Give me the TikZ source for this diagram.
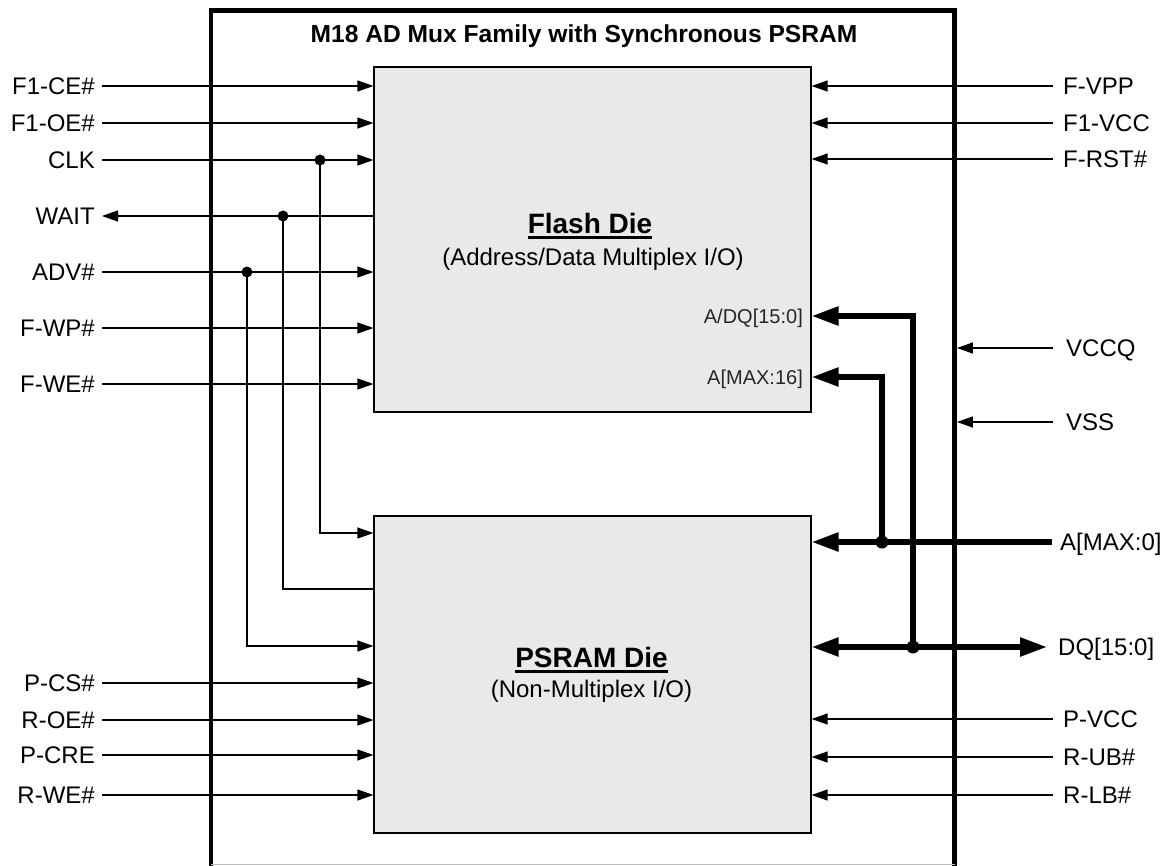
\documentclass[tikz,border=0pt]{standalone}
\usepackage{fontspec}
\setmainfont{Liberation Sans}
\usetikzlibrary{arrows.meta}
\definecolor{diegray}{HTML}{E9E9E9}
\begin{document}
\begin{tikzpicture}[x=1pt,y=-1pt,
  smallA/.tip={Triangle[length=16pt,width=11pt]},
  bigA/.tip={Triangle[length=27pt,width=18pt]},
  lbl/.style={inner sep=0pt, font=\fontsize{24}{28}\selectfont, text height=17.2pt, text depth=0pt},
  pinlbl/.style={inner sep=0pt, font=\fontsize{20}{24}\selectfont, text height=14.3pt, text depth=0pt, text=black!85},
  dietitle/.style={inner sep=0pt, anchor=base, font=\bfseries\fontsize{28}{32}\selectfont},
  diesub/.style={inner sep=0pt, anchor=base, font=\fontsize{24}{28}\selectfont},
  die/.style={draw, fill=diegray, line width=1.2pt, inner sep=0pt},
  sig/.style={line width=1.3pt, -smallA},
  wire/.style={line width=1.3pt},
  bus/.style={line width=5.5pt},
  dot/.style={fill=black}
]
\useasboundingbox (0,0) rectangle (1175,865);

% outer package outline (open at the bottom, cut by the picture edge)
\node[minimum width=743.5pt, minimum height=855.5pt, inner sep=0pt] (outer) at (582.75,438.25) {};
\draw[line width=4.5pt] (outer.south west) -- (outer.north west) -- (outer.north east) -- (outer.south east);
\draw[line width=1pt, black!25] ([yshift=2pt]outer.south west) -- ([yshift=2pt]outer.south east);

\node[inner sep=0pt, anchor=base, font=\bfseries\fontsize{24.6}{28}\selectfont] (title) at (584,42) {M18 AD Mux Family with Synchronous PSRAM};

% dies
\node[die, minimum width=437pt, minimum height=345pt] (flash) at (592.5,239.5) {};
\node[die, minimum width=437pt, minimum height=317pt] (psram) at (592.5,674.5) {};

\node[dietitle] (fdie) at (590,233) {Flash Die};
\draw[line width=3pt] ([yshift=-4.5pt]fdie.base west) -- ([yshift=-4.5pt]fdie.base east);
\node[diesub] (fsub) at (593,265) {(Address/Data Multiplex I/O)};
\node[dietitle] (pdie) at (591.5,667) {PSRAM Die};
\draw[line width=3pt] ([yshift=-4.5pt]pdie.base west) -- ([yshift=-4.5pt]pdie.base east);
\node[diesub] (psub) at (591.5,697) {(Non-Multiplex I/O)};

\node[pinlbl, anchor=east] (adq) at (803,316) {A/DQ[15:0]};
\node[pinlbl, anchor=east] (a16) at (803,377) {A[MAX:16]};

% left labels
\foreach \n/\t/\y in {ce/F1-CE\#/86, oe/F1-OE\#/123, clk/CLK/160, wait/WAIT/216, adv/ADV\#/272, wp/F-WP\#/328, we/F-WE\#/384, pcs/P-CS\#/683, roe/R-OE\#/720, pcre/P-CRE/755, rwe/R-WE\#/795}
  \node[lbl, anchor=east] (\n) at (95,\y) {\t};

% right labels
\foreach \n/\t/\y in {vpp/F-VPP/86, vcc/F1-VCC/123, rst/F-RST\#/159, pvcc/P-VCC/719, rub/R-UB\#/757, rlb/R-LB\#/795}
  \node[lbl, anchor=west] (\n) at (1063,\y) {\t};
\node[lbl, anchor=west] (vccq) at (1066,348) {VCCQ};
\node[lbl, anchor=west] (vss) at (1066,422) {VSS};
\node[lbl, anchor=west] (amax) at (1060,542) {A[MAX:0]};
\node[lbl, anchor=west] (dq) at (1058,647) {DQ[15:0]};

% left flash inputs
\foreach \n in {ce,oe,clk,adv,wp,we}
  \draw[sig] ([xshift=7pt]\n.east) -- (\n.east -| flash.west);
\draw[sig] (wait.east -| flash.west) -- ([xshift=7pt]wait.east);

% left psram inputs
\foreach \n in {pcs,roe,pcre,rwe}
  \draw[sig] ([xshift=7pt]\n.east) -- (\n.east -| psram.west);

% shared signals
\coordinate (clkj) at (320,160);
\coordinate (waitj) at (283,216);
\coordinate (advj) at (247,272);
\coordinate (yclk) at (0,533);
\coordinate (ywait) at (0,589);
\coordinate (yadv) at (0,646);
\draw[sig] (clkj) |- (psram.west |- yclk);
\draw[wire] (waitj) |- (psram.west |- ywait);
\draw[sig] (advj) |- (psram.west |- yadv);
\fill[dot] (clkj) circle (5.5);
\fill[dot] (waitj) circle (5.5);
\fill[dot] (advj) circle (5.5);

% right inputs
\foreach \n in {vpp,vcc,rst}
  \draw[sig] ([xshift=-10pt]\n.west) -- (\n.west -| flash.east);
\foreach \n in {pvcc,rub,rlb}
  \draw[sig] ([xshift=-10pt]\n.west) -- (\n.west -| psram.east);
\draw[sig] ([xshift=-13pt]vccq.west) -- ([xshift=2.25pt]vccq.west -| outer.east);
\draw[sig] ([xshift=-13pt]vss.west) -- ([xshift=2.25pt]vss.west -| outer.east);

% buses
\coordinate (jA) at (882,542);
\coordinate (jD) at (913,647);
\coordinate (yadq) at (0,316);
\coordinate (ya16) at (0,377);
\draw[bus, -bigA] ([xshift=-8pt]amax.west) -- (amax.west -| psram.east);
\draw[bus, bigA-bigA] (dq.west -| psram.east) -- ([xshift=-11pt]dq.west);
\draw[bus, -bigA] (jA) |- (flash.east |- ya16);
\draw[bus, -bigA] (jD) |- (flash.east |- yadq);
\fill[dot] (jA) circle (6.5);
\fill[dot] (jD) circle (6.5);
\end{tikzpicture}
\end{document}
